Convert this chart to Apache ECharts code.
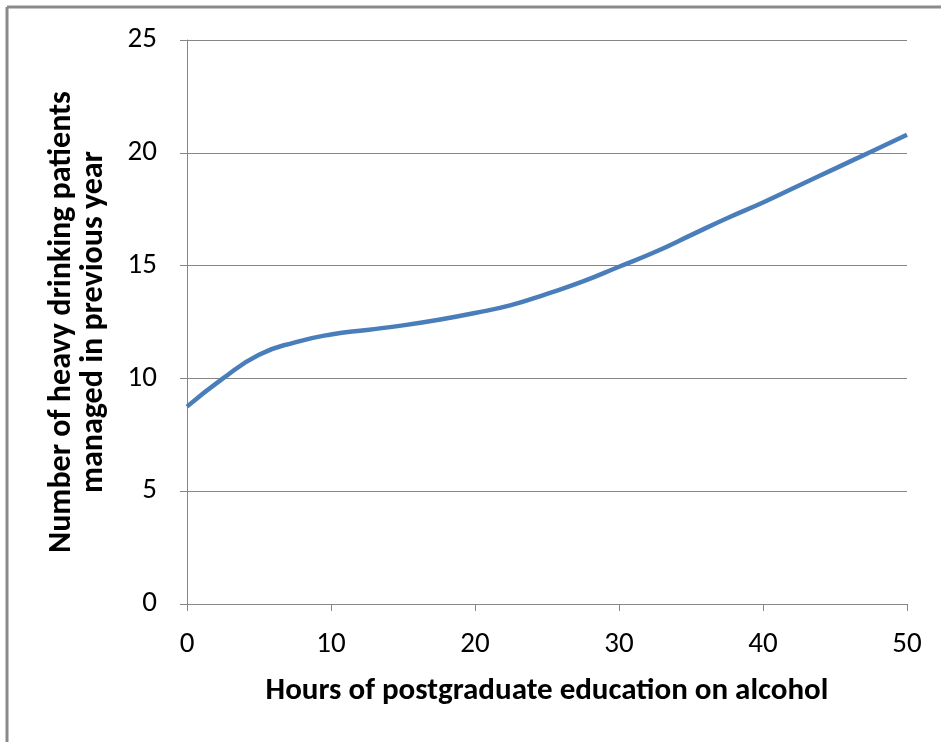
<!DOCTYPE html>
<html>
<head>
<meta charset="utf-8">
<script src="https://cdn.jsdelivr.net/npm/echarts@6/dist/echarts.min.js"></script>
<style>
  html, body { margin: 0; padding: 0; background: #fff; }
  #chart { width: 941px; height: 742px; }
</style>
</head>
<body>
<div id="chart"></div>
<script>
// hours of education (x) and patients managed (y)
const hours = [0, 2.5, 5, 7.5, 10, 12.5, 15, 17.5, 20, 22.5, 25, 27.5, 30, 32.5, 35, 37.5, 40, 42.5, 45, 47.5, 50];
const patients = [8.75, 10.0, 11.05, 11.6, 11.95, 12.15, 12.35, 12.6, 12.9, 13.25, 13.75, 14.3, 14.95, 15.6, 16.35, 17.1, 17.8, 18.55, 19.3, 20.05, 20.8];

const xTitle = "Hours of postgraduate education on alcohol";
const yTitleLines = ["Number of heavy drinking patients", "managed in previous year"];

const chart = echarts.init(document.getElementById("chart"));
const font = "Carlito, Calibri, Lato, sans-serif";

chart.setOption({
  animation: false,
  backgroundColor: "#fff",
  grid: { left: 187, right: 34, top: 40, bottom: 138 },
  graphic: [
    // frame edges visible at top and left
    { type: "line", shape: { x1: 7, y1: 7, x2: 941, y2: 7 }, style: { stroke: "#8a8a8a", lineWidth: 3 } },
    { type: "line", shape: { x1: 7, y1: 7, x2: 7, y2: 742 }, style: { stroke: "#8a8a8a", lineWidth: 3 } },
  ],
  xAxis: {
    type: "value",
    min: 0,
    max: 50,
    interval: 10,
    name: xTitle,
    nameLocation: "middle",
    nameGap: 72,
    nameTextStyle: { fontFamily: font, fontSize: 31, fontWeight: "bold", color: "#000" },
    axisLine: { show: true, lineStyle: { color: "#868686", width: 1 } },
    axisTick: { show: true, length: 7, lineStyle: { color: "#868686" } },
    axisLabel: { margin: 26, fontFamily: font, fontSize: 29, color: "#000" },
    splitLine: { show: false },
  },
  yAxis: {
    type: "value",
    min: 0,
    max: 25,
    interval: 5,
    name: yTitleLines.map((s) => "{t|" + s + "}").join("\n"),
    nameLocation: "middle",
    nameGap: 77,
    nameRotate: 90,
    nameTextStyle: {
      rich: {
        t: { fontFamily: font, fontSize: 32, fontWeight: "bold", color: "#000", lineHeight: 32, align: "center" },
      },
    },
    axisLine: { show: true, lineStyle: { color: "#868686", width: 1 } },
    axisTick: { show: true, length: 7, lineStyle: { color: "#868686" } },
    axisLabel: { margin: 30, fontFamily: font, fontSize: 29, color: "#000" },
    splitLine: { show: true, lineStyle: { color: "#868686", width: 1 } },
  },
  series: [
    {
      type: "line",
      data: hours.map((h, i) => [h, patients[i]]),
      smooth: true,
      showSymbol: false,
      lineStyle: { color: "#4a7ebb", width: 4.5 },
    },
  ],
});
</script>
</body>
</html>
